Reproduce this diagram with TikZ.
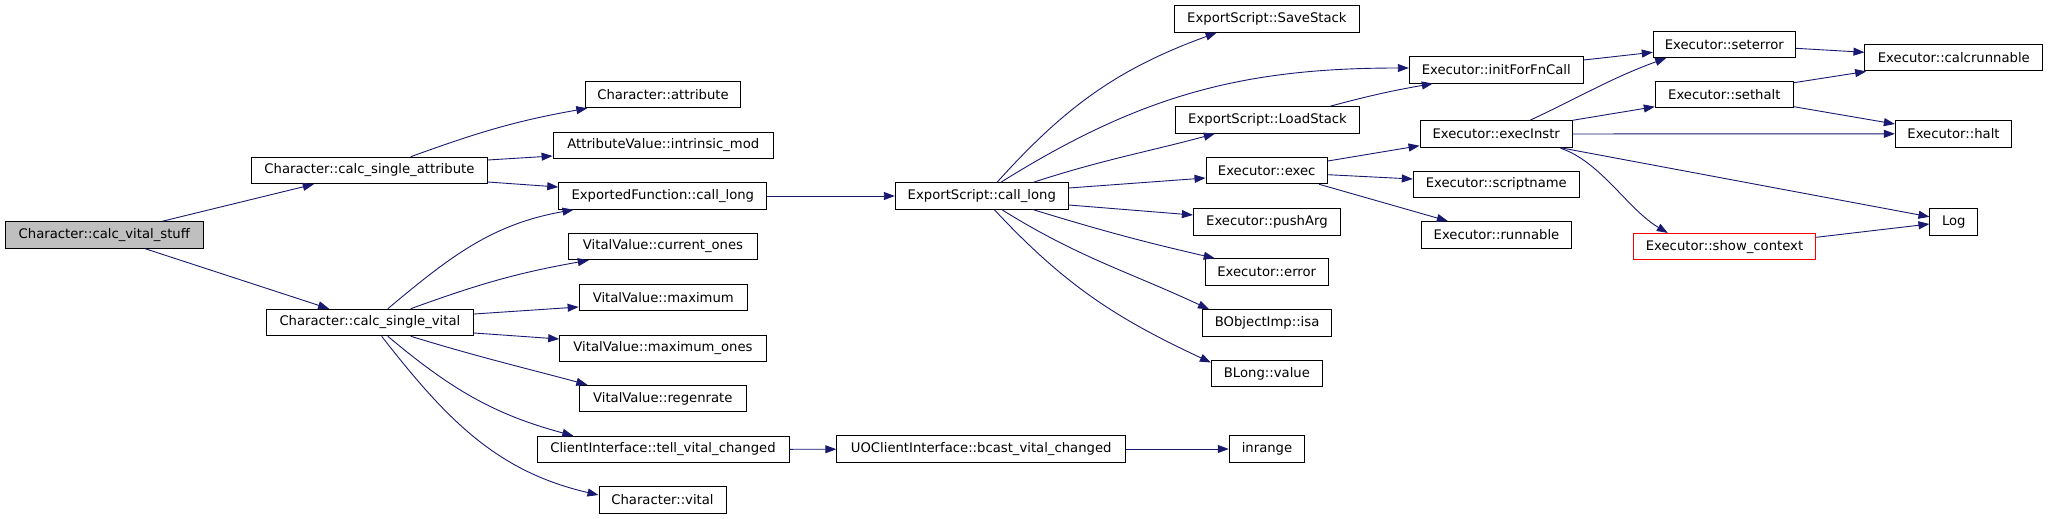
\documentclass[tikz,border=0pt]{standalone}
\usepackage{fontspec}
\setmainfont{DejaVu Sans}
\usetikzlibrary{arrows.meta,calc}
\definecolor{callblue}{HTML}{191970}
\definecolor{curgray}{HTML}{BFBFBF}
\begin{document}
\begin{tikzpicture}[x=1pt, y=-1pt,
    every node/.style={draw, line width=1pt, minimum height=26.5pt, inner sep=0pt, font=\fontsize{13.2}{15}\selectfont},
    call/.style={draw=callblue, line width=0.9pt, -{Triangle[length=11pt,width=8pt]}}]
    \useasboundingbox[fill=white] (0,0) rectangle (2048,519);
    \node [minimum width=198.5pt, fill=curgray] (vs) at (104.3,235) {Character::calc\_vital\_stuff};
    \node [minimum width=235.7pt] (csa) at (369.4,170.5) {Character::calc\_single\_attribute};
    \node [minimum width=207.2pt] (csv) at (369.9,322.5) {Character::calc\_single\_vital};
    \node [minimum width=155.6pt] (attr) at (663,94.5) {Character::attribute};
    \node [minimum width=220.4pt] (imod) at (663.3,145.5) {AttributeValue::intrinsic\_mod};
    \node [minimum width=208.1pt] (efcl) at (662.8,196) {ExportedFunction::call\_long};
    \node [minimum width=188.2pt] (cur) at (663,246.5) {VitalValue::current\_ones};
    \node [minimum width=168.3pt] (max) at (663.3,297.5) {VitalValue::maximum};
    \node [minimum width=206.6pt] (maxo) at (663,348.5) {VitalValue::maximum\_ones};
    \node [minimum width=167.3pt] (regen) at (662.8,398.5) {VitalValue::regenrate};
    \node [minimum width=252pt] (tvc) at (663,449.5) {ClientInterface::tell\_vital\_changed};
    \node [minimum width=127pt] (vital) at (662.5,500) {Character::vital};
    \node [minimum width=173pt] (escl) at (981.8,196) {ExportScript::call\_long};
    \node [minimum width=288.8pt] (uobc) at (981.2,449) {UOClientInterface::bcast\_vital\_changed};
    \node [minimum width=75.5pt] (inr) at (1267,449) {inrange};
    \node [minimum width=185.2pt] (save) at (1266.9,19) {ExportScript::SaveStack};
    \node [minimum width=184pt] (load) at (1267.5,120) {ExportScript::LoadStack};
    \node [minimum width=121.3pt] (exec) at (1266.7,170.5) {Executor::exec};
    \node [minimum width=147pt] (push) at (1266.9,222) {Executor::pushArg};
    \node [minimum width=122.8pt] (err) at (1266.7,272) {Executor::error};
    \node [minimum width=129pt] (isa) at (1267.1,323) {BObjectImp::isa};
    \node [minimum width=111pt] (bval) at (1266.9,373.5) {BLong::value};
    \node [minimum width=174pt] (init) at (1496.3,69.8) {Executor::initForFnCall};
    \node [minimum width=152.3pt] (instr) at (1496.2,134) {Executor::execInstr};
    \node [minimum width=166pt] (sname) at (1496.3,184.3) {Executor::scriptname};
    \node [minimum width=150.3pt] (runn) at (1496.5,234.8) {Executor::runnable};
    \node [minimum width=142pt] (seterr) at (1724.3,44.3) {Executor::seterror};
    \node [minimum width=138pt] (sethalt) at (1724.3,94.5) {Executor::sethalt};
    \node [minimum width=182.4pt, draw=red] (showc) at (1724.5,246.7) {Executor::show\_context};
    \node [minimum width=177.7pt] (calcr) at (1953.8,57.7) {Executor::calcrunnable};
    \node [minimum width=116.3pt] (halt) at (1953.5,133.8) {Executor::halt};
    \node [minimum width=47.7pt] (log) at (1953.8,221.8) {Log};
    \path ($(vs.north)+(58,0)$) edge[call] ($(csa.south)+(-55.6,0)$);
    \path ($(vs.south)+(41,0)$) edge[call] ($(csv.north)+(-40.8,0)$);
    \path ($(csa.north)+(41.3,0)$) edge[call, out=20, in=190] ($(attr.south west)+(2.6,0)$);
    \path ($(csa.east)+(0,-10.5)$) edge[call] ($(imod.west)+(0,10.5)$);
    \path ($(csa.east)+(0,11.5)$) edge[call] ($(efcl.west)+(0,-9)$);
    \path ($(csv.north)+(17.9,0)$) edge[call, out=40, in=190] ($(efcl.south west)+(15.3,0)$);
    \path ($(csv.north)+(40.8,0)$) edge[call, out=20, in=190] ($(cur.south west)+(20.4,0)$);
    \path ($(csv.east)+(0,-8.5)$) edge[call] ($(max.west)+(0,9.5)$);
    \path ($(csv.east)+(0,10.5)$) edge[call] ($(maxo.west)+(0,-9.5)$);
    \path ($(csv.south)+(40.8,0)$) edge[call, out=-17, in=165] ($(regen.north west)+(8.7,0)$);
    \path ($(csv.south)+(17.9,0)$) edge[call, out=-40, in=165] ($(tvc.north west)+(36.8,0)$);
    \path ($(csv.south)+(11.7,0)$) edge[call, out=-52, in=167] ($(vital.west)+(0,-5)$);
    \path (efcl) edge[call] (escl);
    \path (tvc) edge[call] (uobc);
    \path (uobc) edge[call] (inr);
    \path ($(escl.north)+(15.3,0)$) edge[call, out=48, in=200] ($(save.south west)+(42.8,0)$);
    \path ($(escl.north)+(19.1,0)$) edge[call, out=32, in=180] ($(init.west)+(0,-1.8)$);
    \path ($(escl.north)+(51.6,0)$) edge[call, out=18, in=195] ($(load.south west)+(39.8,0)$);
    \path ($(escl.east)+(0,-8)$) edge[call] ($(exec.west)+(0,7.5)$);
    \path ($(escl.east)+(0,9)$) edge[call] ($(push.west)+(0,-7)$);
    \path ($(escl.south)+(51.6,0)$) edge[call, out=-17, in=167] ($(err.north west)+(9.9,0)$);
    \path ($(escl.south)+(20.2,0)$) edge[call, out=-32, in=155] ($(isa.north west)+(6.9,0)$);
    \path ($(escl.south)+(12.6,0)$) edge[call, out=-47, in=155] ($(bval.west)+(0,-11)$);
    \path ($(load.north)+(62.5,0)$) edge[call, out=15, in=190] ($(init.south west)+(24,0)$);
    \path ($(exec.east)+(0,-9.5)$) edge[call] ($(instr.west)+(0,11.7)$);
    \path ($(exec.east)+(0,4.2)$) edge[call] ($(sname.west)+(0,-5.3)$);
    \path ($(exec.south east)+(-8.8,0)$) edge[call] ($(runn.north west)+(27,0)$);
    \path ($(init.east)+(0,-9.8)$) edge[call] ($(seterr.west)+(0,8)$);
    \path ($(instr.north)+(33.8,0)$) edge[call, out=25, in=200] ($(seterr.south west)+(13.4,0)$);
    \path (instr.north east) edge[call] ($(sethalt.west)+(0,12.2)$);
    \path (instr) edge[call] (halt);
    \path ($(instr.south east)+(-12.3,0)$) edge[call] ($(log.west)+(0,-5)$);
    \draw[call] ($(instr.south east)+(-12.3,0.5)$) .. controls ($(instr.south east)+(27.7,13.7)$) and ($(showc.north west)+(-5,-23.6)$) .. ($(showc.north west)+(35,0)$);
    \path ($(seterr.east)+(0,4)$) edge[call] ($(calcr.west)+(0,-5.4)$);
    \path ($(sethalt.east)+(0,-11.8)$) edge[call] ($(calcr.south west)+(1.7,0)$);
    \path ($(sethalt.east)+(0,12.2)$) edge[call] ($(halt.west)+(0,-9.8)$);
    \path ($(showc.east)+(0,-9.4)$) edge[call] ($(log.west)+(0,2.2)$);
\end{tikzpicture}
\end{document}
